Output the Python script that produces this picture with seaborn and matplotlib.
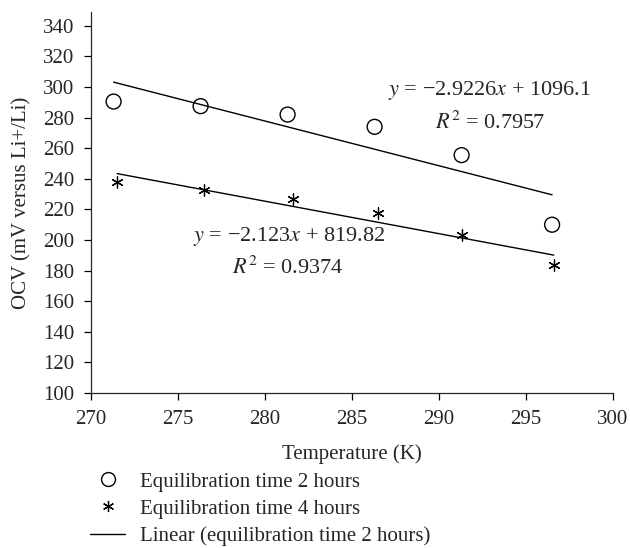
"""
OCV versus temperature for two equilibration times, with linear trend lines.
"""

import numpy as np
import pandas as pd
import matplotlib
matplotlib.use("Agg")
import matplotlib.pyplot as plt
import seaborn as sns

# data
temp_2h = [271.3, 276.3, 281.3, 286.3, 291.3, 296.5]
ocv_2h = [290.5, 287.5, 282.0, 274.0, 255.5, 210.0]
temp_4h = [271.5, 276.5, 281.6, 286.5, 291.3, 296.6]
ocv_4h = [238.0, 233.0, 226.5, 217.5, 203.5, 184.0]

# trend line coefficients as printed on the chart
fit_2h = (-2.9226, 1096.1, 0.7957)
fit_4h = (-2.123, 819.82, 0.9374)

x_ticks = [270, 275, 280, 285, 290, 295, 300]
y_ticks = list(range(100, 341, 20))

FS = 15

sns.set_style("ticks")
plt.rcParams["font.family"] = ["Liberation Serif", "DejaVu Serif"]
plt.rcParams["mathtext.fontset"] = "stix"
plt.rcParams["axes.linewidth"] = 0.9
plt.rcParams["xtick.major.width"] = 0.9
plt.rcParams["ytick.major.width"] = 0.9


def trend(temps, fit, name):
    xs = np.array([min(temps), max(temps)])
    return pd.DataFrame({"temp": xs, "ocv": fit[0] * xs + fit[1], "series": name})


lines = pd.concat([
    trend(temp_2h, fit_2h, "Linear (equilibration time 2 hours)"),
    trend(temp_4h, fit_4h, "Linear (equilibration time 4 hours)"),
])

fig = plt.figure(figsize=(6.3, 5.48), dpi=100)
ax = fig.add_axes([0.1444, 0.2828, 0.8286, 0.6952])

star = (6, 2, 0)
sns.scatterplot(x=temp_2h, y=ocv_2h, marker="o", s=115, facecolor="none",
                edgecolor="black", linewidth=1.0, ax=ax)
sns.scatterplot(x=temp_4h, y=ocv_4h, marker=star, s=65, color="black",
                linewidth=0.9, ax=ax)

sns.lineplot(data=lines, x="temp", y="ocv", units="series", estimator=None,
             color="black", linewidth=1.0, legend=False, ax=ax)

# regression labels, placed in figure pixels as in the source figure
for txt, px, py in [
    (r"$y$ = −2.9226$x$ + 1096.1", 388, 90),
    (r"$R^2$ = 0.7957", 435, 123),
    (r"$y$ = −2.123$x$ + 819.82", 193, 237),
    (r"$R^2$ = 0.9374", 232, 268),
]:
    ax.annotate(txt, xy=(px, 548 - py), xycoords="figure pixels",
                fontsize=16, va="center", ha="left")

ax.set_xlim(270, 300)
ax.set_ylim(100, 349)
ax.set_xticks(x_ticks)
ax.set_yticks(y_ticks)
ax.tick_params(axis="both", labelsize=FS, length=5, pad=7, color="black", direction="out")
ax.set_xlabel("Temperature (K)", fontsize=FS, labelpad=11)
ax.set_ylabel("OCV (mV versus Li+/Li)", fontsize=FS, labelpad=8)
sns.despine(ax=ax)

handles = [
    plt.Line2D([], [], marker="o", linestyle="none", markerfacecolor="none",
               markeredgecolor="black", markersize=10, markeredgewidth=1.0),
    plt.Line2D([], [], marker=star, linestyle="none", color="black",
               markersize=8, markeredgewidth=0.9),
    plt.Line2D([], [], color="black", linewidth=1.0),
]
labels = ["Equilibration time 2 hours", "Equilibration time 4 hours",
          "Linear (equilibration time 2 hours)"]
fig.legend(handles, labels, loc="upper left", bbox_to_anchor=(90 / 630, 1 - 472 / 548),
           frameon=False, fontsize=FS, handlelength=1.7, handletextpad=0.72,
           labelspacing=0.36, borderaxespad=0, borderpad=0)

fig.savefig("out.png", dpi=100)
plt.close(fig)
